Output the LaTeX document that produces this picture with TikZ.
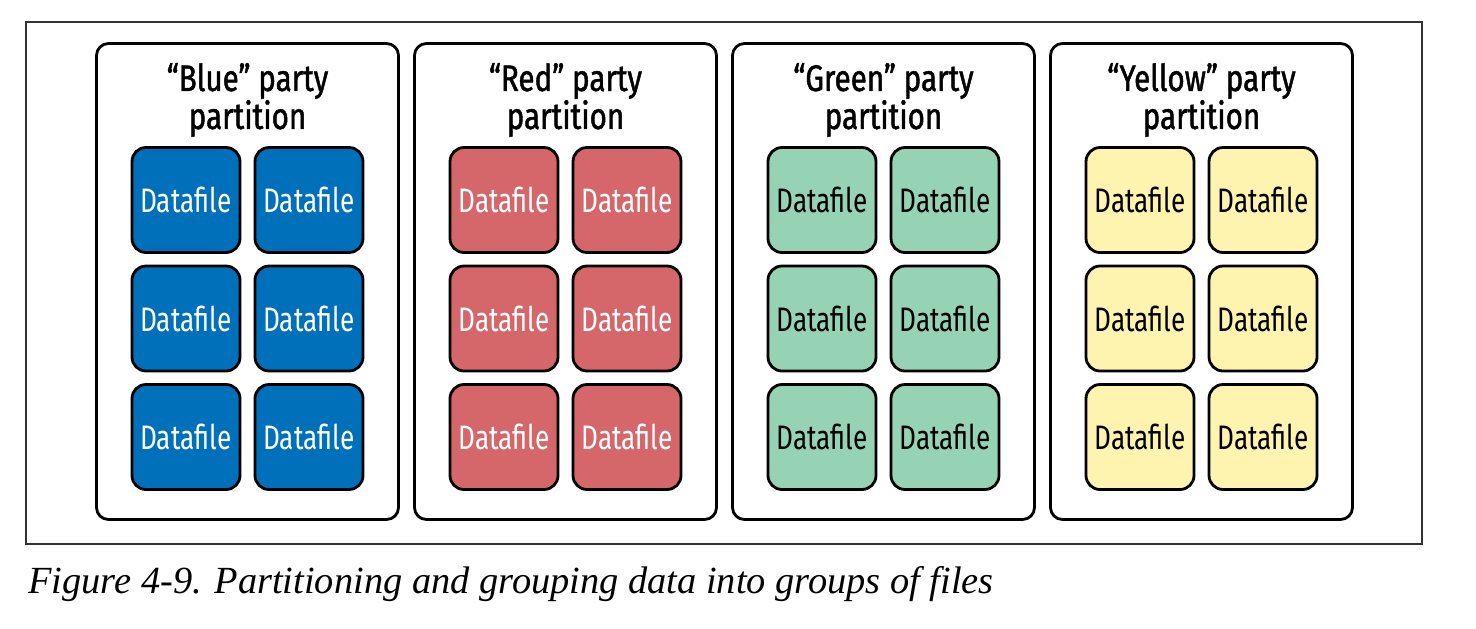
\documentclass[tikz,border=0pt]{standalone}
\usepackage{fontspec}
\setmainfont{Liberation Serif}
\newfontfamily\condfont[FakeStretch=0.77]{Fira Sans}
\newfontfamily\condheavy[FakeStretch=0.8,FakeBold=1.2]{Fira Sans}

\definecolor{partblue}{RGB}{0,112,187}
\definecolor{partred}{RGB}{213,102,106}
\definecolor{partgreen}{RGB}{150,211,180}
\definecolor{partyellow}{RGB}{255,243,176}

\begin{document}
\begin{tikzpicture}[x=0.5pt,y=-0.5pt,
    partbox/.style={draw=black, fill=white, line width=1.4pt, rounded corners=6pt, minimum width=151pt, minimum height=238pt, inner sep=0pt},
    filebox/.style={draw=black, line width=1.4pt, rounded corners=7pt, minimum width=54pt, minimum height=52.5pt, inner sep=0pt, font=\condfont\fontsize{17}{17}\selectfont},
    parttitle/.style={align=center, inner sep=0pt, font=\condheavy\fontsize{18.5}{19}\selectfont}]
        % canvas and frame
        \useasboundingbox (0,0) rectangle (1476,628);
        \draw[line width=0.7pt, black!80] (26,22) rectangle (1422,544);

        % partitions with their files
        \foreach \name/\col/\ink [count=\i from 0] in {Blue/partblue/white, Red/partred/white, Green/partgreen/black, Yellow/partyellow/black}{
            \node[partbox] (\name) at ({247.5+318*\i},281.5) {};
            \node[parttitle] (\name-title) at ({247.5+318*\i},100) {“\name” party\\partition};
            \foreach \r/\y in {1/200, 2/318.5, 3/437}{
                \foreach \c/\dx in {1/-61.5, 2/61.5}{
                    \node[filebox, fill=\col, text=\ink] (\name-\r-\c) at ({247.5+318*\i+\dx},\y) {Datafile};
                }
            }
        }

        % caption
        \node[anchor=base west, inner sep=0pt, font=\fontsize{19.2}{20}\selectfont\itshape] (caption) at (28,593) {Figure 4-9. Partitioning and grouping data into groups of files};
\end{tikzpicture}
\end{document}
